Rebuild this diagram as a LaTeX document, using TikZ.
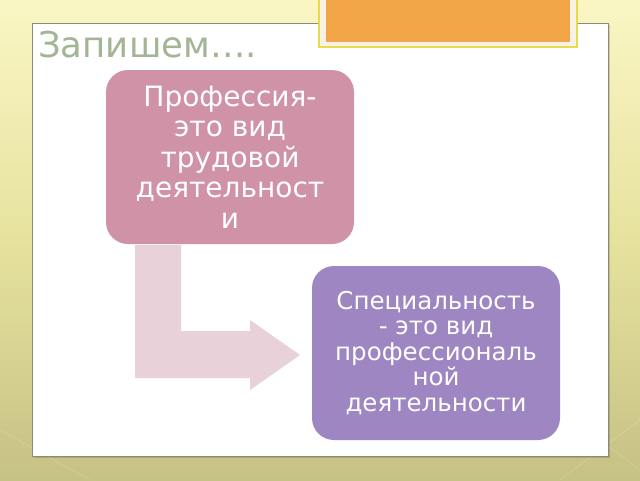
\documentclass[tikz,border=0pt]{standalone}
\usepackage{fontspec}
\setmainfont{DejaVu Sans}
\definecolor{bgtop}{HTML}{FAF6C4}
\definecolor{bgmid}{HTML}{E6E29E}
\definecolor{bgbot}{HTML}{C6C184}
\definecolor{framegray}{HTML}{8A8A7C}
\definecolor{titlecol}{HTML}{A3B595}
\definecolor{pinkbox}{HTML}{D092A7}
\definecolor{purplebox}{HTML}{9D86C1}
\definecolor{arrowpink}{HTML}{E8D1D8}
\definecolor{tabyellow}{HTML}{E6DC4A}
\definecolor{tabcream}{HTML}{F8F2E6}
\definecolor{taborange}{HTML}{F2A547}
\tikzset{
  box/.style={rounded corners=22pt, minimum width=248pt, minimum height=174pt,
    text=white, align=center, inner sep=0pt},
}
\begin{document}
\begin{tikzpicture}[x=1pt,y=-1pt]
\useasboundingbox (0,0) rectangle (640,480);
% background gradient
\shade[top color=bgtop, bottom color=bgmid] (0,0) rectangle (640,240);
\shade[top color=bgmid, bottom color=bgbot] (0,240) rectangle (640,480);
% faint background lines
\begin{scope}[white, opacity=0.15, line width=0.8pt]
\draw (0,430) -- (90,480);
\draw (560,480) -- (640,420);
\draw (600,440) -- (640,470);
\end{scope}
% white frame
\fill[black, opacity=0.15] (34,25) rectangle (610,458);
\filldraw[fill=white, draw=framegray, line width=1pt] (32,23) rectangle (608,456);
% orange tab
\filldraw[fill=tabcream, draw=tabyellow, line width=1.2pt] (319,-2) rectangle (577,47);
\fill[taborange] (326,-2) rectangle (570,42);
% title
\node[anchor=base west, inner sep=0pt, text=titlecol, font=\fontsize{35.5}{40}\selectfont] (title) at (38,57) {Запишем….};
% boxes
\node[box, fill=pinkbox, font=\fontsize{28}{30.5}\selectfont] (prof) at (230,157) {Профессия-\\это вид\\трудовой\\деятельност\\и};
\node[box, fill=purplebox, font=\fontsize{24.5}{25.5}\selectfont] (spec) at (436,353) {Специальность\\- это вид\\профессиональ\\ной\\деятельности};
% bent arrow
\fill[arrowpink] (135,245) -- (181,245) -- (181,331) -- (250,331) -- (250,320) -- (300,355) -- (250,390) -- (250,378) -- (135,378) -- cycle;
\end{tikzpicture}
\end{document}
